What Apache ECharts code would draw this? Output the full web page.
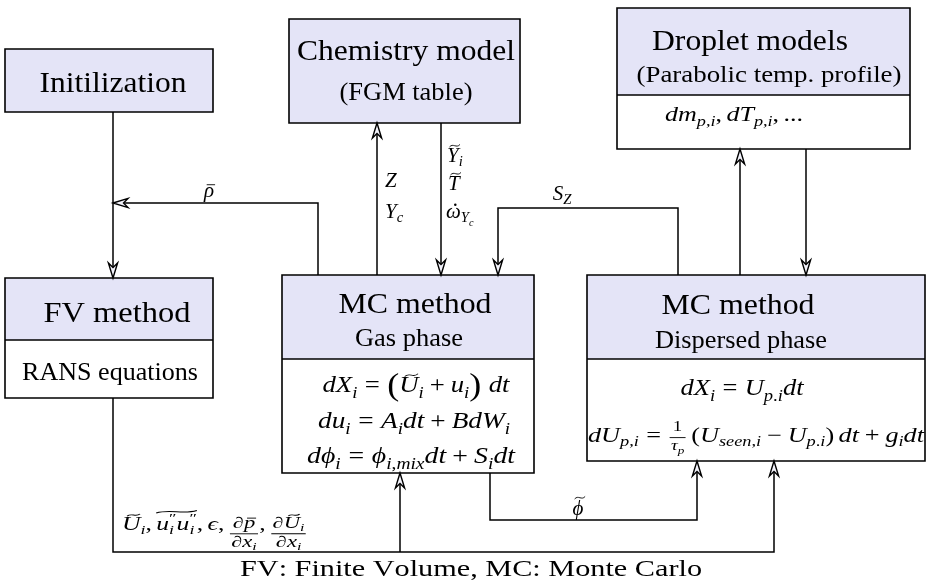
<!DOCTYPE html>
<html>
<head>
<meta charset="utf-8">
<script src="https://cdn.jsdelivr.net/npm/echarts@6/dist/echarts.min.js"></script>
<style>
  html, body { margin: 0; padding: 0; background: #fff; }
  #main { width: 934px; height: 587px; }
</style>
</head>
<body>
<div id="main"></div>
<script>
// ---------- content of the diagram ----------
// strings starting with '$' are math (mini TeX: _ sub, ^ sup, \frac, \tilde, \bar, \dot, \wt = wide tilde, \big)
const boxTitles = ['Initilization', 'Chemistry model', 'Droplet models', 'FV method', 'MC method', 'MC method'];
const boxSubtitles = ['', '(FGM table)', '(Parabolic temp. profile)', '', 'Gas phase', 'Dispersed phase'];
const boxEquations = [
    [],
    [],
    ['$dm_{p,i}, dT_{p,i}, ...'],
    ['RANS equations'],
    ['$dX_i = \\big(\\tilde{U}_i + u_i\\big)\\;dt', '$du_i = A_idt + BdW_i', '$dϕ_i = ϕ_{i,mix}dt + S_idt'],
    ['$dX_i = U_{p.i}dt', '$dU_{p,i} = \\frac{1}{τ_p}\\,(U_{seen,i} − U_{p.i})\\,dt + g_idt']
];
// information flows between the boxes
const flows = [
    ['Initilization', 'FV method'],
    ['MC gas', 'FV method'],
    ['MC gas', 'Chemistry model'],
    ['Chemistry model', 'MC gas'],
    ['MC dispersed', 'MC gas'],
    ['MC dispersed', 'Droplet models'],
    ['Droplet models', 'MC dispersed'],
    ['FV method', 'MC dispersed'],
    ['FV method', 'MC gas'],
    ['MC gas', 'MC dispersed']
];
const flowLabels = [
    [],
    ['$\\bar{ρ}'],
    ['$Z', '$Y_c'],
    ['$\\tilde{Y}_i', '$\\tilde{T}', '$\\dot{ω}_{Y_c}'],
    ['$S_Z'],
    [],
    [],
    ['$\\tilde{U}_i, \\wt{u^{″}_iu^{″}_i}, ϵ, \\frac{∂\\bar{p}}{∂x_i}, \\frac{∂\\tilde{U}_i}{∂x_i}'],
    [],
    ['$\\tilde{ϕ}']
];
const caption = 'FV: Finite Volume, MC: Monte Carlo';

// ---------- layout (page pixels) ----------
// [x0, y0, x1, y1, header bottom]
const boxGeom = [
    [5, 49, 213, 112, 112],
    [289, 19, 520, 123, 123],
    [617, 8, 910, 149, 95],
    [5, 278, 213, 398, 340],
    [282, 275, 534, 473, 359],
    [587, 275, 925, 461, 359]
];
const flowRoutes = [
    [[113, 112], [113, 278]],
    [[318, 275], [318, 203], [113, 203]],
    [[377, 275], [377, 123]],
    [[441, 123], [441, 275]],
    [[678, 275], [678, 208], [498, 208], [498, 275]],
    [[740, 275], [740, 149]],
    [[806, 149], [806, 275]],
    [[113, 398], [113, 552], [774, 552], [774, 461]],
    [[400, 552], [400, 473]],
    [[490, 473], [490, 520], [697, 520], [697, 461]]
];
// [x, y (cap centre), font size, target width (0 = natural), align, fraction axis, fraction size]
const titlePos = [[113, 82, 30, 147, 'c'], [406, 50, 30, 218, 'c'], [750, 41, 29, 196, 'c'],
    [117, 312, 30, 147, 'c'], [415, 303, 30, 153, 'c'], [738, 304, 30, 153, 'c']];
const subtitlePos = [null, [406, 92, 25, 133, 'c'], [769, 74, 24, 265, 'c'], null,
    [409, 338, 25, 108, 'c'], [741, 340, 25, 172, 'c']];
const equationPos = [
    [], [],
    [[734, 115, 20, 138, 'c']],
    [[110, 372, 25, 176, 'c']],
    [[416, 385, 23, 187, 'c'], [414, 421, 23, 192, 'c'], [411, 456, 23, 208, 'c']],
    [[742, 388, 23, 123, 'c'], [756, 435, 21, 336, 'c', -0.2, 0.72]]
];
const flowLabelPos = [
    [],
    [[209, 190, 21, 0, 'c']],
    [[385, 180, 21, 0, 'l'], [385, 211, 21, 0, 'l']],
    [[447, 155, 21, 0, 'l'], [448, 183, 21, 0, 'l'], [446, 211, 21, 0, 'l']],
    [[562, 193, 21, 0, 'c']],
    [], [],
    [[122, 524, 18, 185, 'l', 0.22, 0.88]],
    [],
    [[578, 508, 21, 0, 'c']]
];
const captionPos = [471, 568, 24, 462, 'c'];

const FONT = '"Liberation Serif", "DejaVu Serif", serif';
const HEAD = '#e4e4f7';

// ---------- tiny math typesetter ----------
const ctx = document.createElement('canvas').getContext('2d');
function setFont(size, italic) { ctx.font = (italic ? 'italic ' : '') + size + 'px ' + FONT; }
function measure(t, size, italic) { setFont(size, italic); return ctx.measureText(t).width; }
function ascent(t, size, italic) { setFont(size, italic); return ctx.measureText(t).actualBoundingBoxAscent; }
ctx.textBaseline = 'alphabetic';
const capA = ascent('H', 100, false);
ctx.textBaseline = 'middle';
const midA = ascent('H', 100, false);
ctx.textBaseline = 'alphabetic';
const K = (capA - midA) / 100;      // baseline below the 'middle' line
const CAP = capA / 100 / 2;         // half cap height

function group(s, i) {
    if (s[i] === '{') {
        let d = 0, j = i;
        for (; j < s.length; j++) {
            if (s[j] === '{') d++;
            else if (s[j] === '}') { d--; if (d === 0) break; }
        }
        return [s.slice(i + 1, j), j + 1];
    }
    return [s[i], i + 1];
}

const ACCENTS = { '\\tilde': 'tilde', '\\bar': 'macron', '\\dot': 'dot', '\\wt': 'wide' };

// opt: { axis, frac } fraction bar position and fraction font ratio
function setBox(src, size, math, level, opt) {
    const box = { items: [], rules: [], width: 0, top: 0, italic: false };
    let x = 0, i = 0;
    const add = (child, dx, dy) => {
        child.items.forEach(it => box.items.push(Object.assign({}, it, { x: it.x + dx, dy: it.dy + dy })));
        child.rules.forEach(r => box.rules.push(Object.assign({}, r, { x0: r.x0 + dx, x1: r.x1 + dx, y: r.y + dy })));
        box.top = Math.max(box.top, child.top - dy);
        box.italic = box.italic || child.italic;
    };
    const shift = c => (c === '_' ? size * 0.22 : -size * 0.42);
    while (i < src.length) {
        const c = src[i];
        let acc = null;
        for (const k in ACCENTS) if (src.startsWith(k + '{', i)) { acc = k; break; }
        if (c === '_' || c === '^') {
            const [g, j] = group(src, i + 1);
            i = j;
            const first = setBox(g, size * 0.7, math, level + 1, opt);
            add(first, x, shift(c));
            let w = first.width;
            const c2 = src[i];
            if ((c2 === '_' || c2 === '^') && c2 !== c) {
                const [g2, j2] = group(src, i + 1);
                i = j2;
                const second = setBox(g2, size * 0.7, math, level + 1, opt);
                add(second, x, shift(c2));
                w = Math.max(w, second.width);
            }
            x += w;
        } else if (acc) {
            const [g, j] = group(src, i + acc.length);
            i = j;
            const child = setBox(g, size, math, level, opt);
            add(child, x, 0);
            const kind = ACCENTS[acc];
            const y = -(child.top + size * 0.1);
            if (kind === 'wide') {
                box.rules.push({ kind: 'tilde', x0: x, x1: x + child.width, y: y - size * 0.04, h: size * 0.07 });
            } else {
                const cx = x + child.width / 2 + (child.italic ? size * 0.09 : 0);
                const aw = kind === 'dot' ? 0 : size * (kind === 'tilde' ? 0.5 : 0.4);
                box.rules.push({ kind, x0: cx - aw / 2, x1: cx + aw / 2, y, h: size * 0.06, r: size * 0.06 });
            }
            box.top = Math.max(box.top, child.top + size * 0.2);
            x += child.width;
        } else if (src.startsWith('\\frac', i)) {
            const [a, j1] = group(src, i + 5);
            const [b, j2] = group(src, j1);
            i = j2;
            const fs = size * opt.frac;
            const inner = { axis: opt.axis, frac: 0.72 };
            const na = setBox(a, fs, math, level + 1, inner), nb = setBox(b, fs, math, level + 1, inner);
            const w = Math.max(na.width, nb.width) + size * 0.2;
            const axis = size * opt.axis;
            add(na, x + (w - na.width) / 2, axis - size * 0.12 - fs * 0.25);
            add(nb, x + (w - nb.width) / 2, axis + size * 0.1 + fs * 0.7);
            box.rules.push({ kind: 'bar', x0: x + size * 0.05, x1: x + w - size * 0.05, y: axis });
            x += w;
        } else if (src.startsWith('\\big', i)) {
            const ch = src[i + 4];
            i += 5;
            const bs = size * 1.35;
            box.items.push({ t: ch, x, dy: size * 0.1, size: bs, italic: false });
            x += measure(ch, bs, false);
        } else if (src.startsWith('\\,', i)) { x += size * 0.167; i += 2; }
        else if (src.startsWith('\\;', i)) { x += size * 0.278; i += 2; }
        else if (c === ' ') { if (!math) x += measure(' ', size, false); i++; }
        else {
            i++;
            const italic = math && /[A-Za-z\u0370-\u03ff\u2202]/.test(c);
            let pre = 0, post = 0;
            if (math && level === 0) {
                if (c === '=') pre = post = size * 0.278;
                else if (c === '+' || c === '−') pre = post = size * 0.222;
                else if (c === ',') post = size * 0.167;
            }
            x += pre;
            box.items.push({ t: c, x, dy: 0, size, italic });
            box.top = Math.max(box.top, ascent(c, size, italic));
            box.italic = box.italic || italic;
            x += measure(c, size, italic) + post;
        }
    }
    box.width = x;
    return box;
}

// flat list of every text block
const labelList = [];
boxTitles.forEach((t, i) => labelList.push({ src: t, pos: titlePos[i] }));
boxSubtitles.forEach((t, i) => { if (t) labelList.push({ src: t, pos: subtitlePos[i] }); });
boxEquations.forEach((eqs, i) => eqs.forEach((e, k) => labelList.push({ src: e, pos: equationPos[i][k] })));
flowLabels.forEach((ls, i) => ls.forEach((l, k) => labelList.push({ src: l, pos: flowLabelPos[i][k] })));
labelList.push({ src: caption, pos: captionPos });
labelList.forEach(L => {
    const math = L.src[0] === '$';
    const opt = { axis: L.pos[5] === undefined ? -0.25 : L.pos[5], frac: L.pos[6] || 0.72 };
    L.box = setBox(math ? L.src.slice(1) : L.src, L.pos[2], math, 0, opt);
});

// ---------- renderers ----------
function renderBox(params, api) {
    const b = boxGeom[params.dataIndex];
    const p0 = api.coord([b[0], b[1]]);
    const p1 = api.coord([b[2], b[3]]);
    const ph = api.coord([b[0], b[4]]);
    const w = p1[0] - p0[0];
    const children = [
        { type: 'rect', shape: { x: p0[0], y: p0[1], width: w, height: ph[1] - p0[1] }, style: { fill: HEAD } }
    ];
    if (p1[1] > ph[1]) {
        children.push({ type: 'rect', shape: { x: p0[0], y: ph[1], width: w, height: p1[1] - ph[1] }, style: { fill: '#fff' } });
        children.push({ type: 'line', shape: { x1: p0[0], y1: ph[1], x2: p1[0], y2: ph[1] }, style: { stroke: '#000', lineWidth: 1.6 } });
    }
    children.push({ type: 'rect', shape: { x: p0[0], y: p0[1], width: w, height: p1[1] - p0[1] },
        style: { fill: 'none', stroke: '#000', lineWidth: 1.6 } });
    return { type: 'group', children };
}

function renderFlow(params, api) {
    const pts = flowRoutes[params.dataIndex].map(p => api.coord(p));
    const n = pts.length;
    const a = pts[n - 2], b = pts[n - 1];
    const len = Math.hypot(b[0] - a[0], b[1] - a[1]);
    const ux = (b[0] - a[0]) / len, uy = (b[1] - a[1]) / len;
    const px = -uy, py = ux;
    const L = 15, W = 4.6, N = 4.5;
    const back = [b[0] - ux * L, b[1] - uy * L];
    const notch = [b[0] - ux * (L - N), b[1] - uy * (L - N)];
    const head = [b, [back[0] + px * W, back[1] + py * W], notch, [back[0] - px * W, back[1] - py * W]];
    const line = pts.slice(0, n - 1).concat([notch]);
    return {
        type: 'group',
        children: [
            { type: 'polyline', shape: { points: line }, style: { fill: 'none', stroke: '#000', lineWidth: 1.5, lineJoin: 'miter' } },
            { type: 'polygon', shape: { points: head }, style: { fill: '#f3f3fb', stroke: '#000', lineWidth: 1.4, lineJoin: 'miter' } }
        ]
    };
}

function renderLabel(params, api) {
    const L = labelList[params.dataIndex];
    const pos = L.pos, box = L.box;
    const p = api.coord([pos[0], pos[1]]);
    const sx = pos[3] ? pos[3] / box.width : 1;
    const ox = pos[4] === 'l' ? 0 : -box.width / 2;
    const base = pos[2] * CAP;
    const children = box.items.map(it => ({
        type: 'text',
        x: ox + it.x,
        y: base + it.dy - K * it.size,
        style: {
            text: it.t, fill: '#000', fontSize: it.size, fontFamily: FONT,
            fontStyle: it.italic ? 'italic' : 'normal', align: 'left', verticalAlign: 'middle'
        }
    }));
    box.rules.forEach(r => {
        const y = base + r.y, x0 = ox + r.x0, x1 = ox + r.x1;
        if (r.kind === 'bar' || r.kind === 'macron') {
            children.push({ type: 'line', shape: { x1: x0, y1: y, x2: x1, y2: y }, style: { stroke: '#000', lineWidth: 0.9 } });
        } else if (r.kind === 'dot') {
            children.push({ type: 'circle', shape: { cx: x0, cy: y, r: r.r }, style: { fill: '#000' } });
        } else {
            const w = x1 - x0, h = r.h;
            children.push({ type: 'bezierCurve',
                shape: { x1: x0, y1: y + h, cpx1: x0 + w * 0.35, cpy1: y - 2.4 * h, cpx2: x0 + w * 0.65, cpy2: y + 2.4 * h, x2: x1, y2: y - h },
                style: { fill: 'none', stroke: '#000', lineWidth: 0.9 } });
        }
    });
    return { type: 'group', x: p[0], y: p[1], scaleX: sx, children };
}

// ---------- chart ----------
const chart = echarts.init(document.getElementById('main'));
chart.setOption({
    animation: false,
    backgroundColor: '#fff',
    grid: { left: 0, right: 0, top: 0, bottom: 0 },
    xAxis: { type: 'value', min: 0, max: 934, show: false },
    yAxis: { type: 'value', min: 0, max: 587, inverse: true, show: false },
    series: [
        {
            type: 'custom', name: 'boxes', coordinateSystem: 'cartesian2d', silent: true, clip: false,
            renderItem: renderBox, data: boxGeom.map(b => [b[0], b[1]])
        },
        {
            type: 'custom', name: 'flows', coordinateSystem: 'cartesian2d', silent: true, clip: false,
            renderItem: renderFlow, data: flowRoutes.map(r => r[0])
        },
        {
            type: 'custom', name: 'labels', coordinateSystem: 'cartesian2d', silent: true, clip: false,
            renderItem: renderLabel, data: labelList.map(L => [L.pos[0], L.pos[1]])
        }
    ]
});
window.addEventListener('resize', () => chart.resize());
</script>
</body>
</html>
